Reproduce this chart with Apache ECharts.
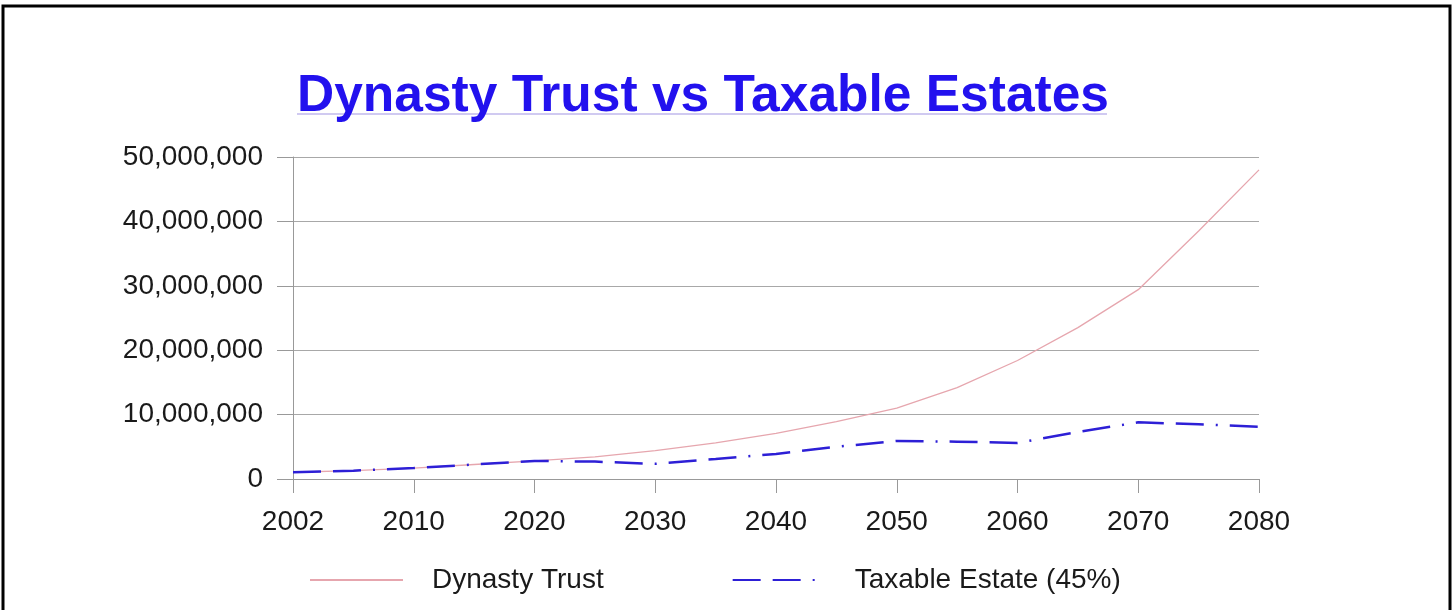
<!DOCTYPE html>
<html>
<head>
<meta charset="utf-8">
<script src="https://cdn.jsdelivr.net/npm/echarts@6/dist/echarts.min.js"></script>
<style>
html,body{margin:0;padding:0;background:#fff;}
#chart{width:1456px;height:610px;}
</style>
</head>
<body>
<div id="chart"></div>
<script>
const categories = ['2002','2005','2010','2015','2020','2025','2030','2035','2040','2045','2050','2055','2060','2065','2070','2075','2080'];
const dynastyTrust = [1050000,1300000,1700000,2250000,2800000,3450000,4400000,5600000,7100000,8900000,11000000,14200000,18400000,23500000,29400000,38500000,48000000];
const taxableEstate = [1050000,1300000,1700000,2250000,2800000,2700000,2350000,3100000,3900000,5000000,5900000,5800000,5600000,7300000,8800000,8500000,8100000];
const yTicks = {min: 0, max: 50000000, interval: 10000000};
const titleText = 'Dynasty Trust vs Taxable Estates';
const seriesNames = ['Dynasty Trust', 'Taxable Estate (45%)'];

const FONT = "'Liberation Sans', Arial, sans-serif";
const chart = echarts.init(document.getElementById('chart'), null, {renderer: 'canvas'});
chart.setOption({
  animation: false,
  backgroundColor: '#ffffff',
  title: {
    text: titleText,
    left: 297,
    top: 71,
    padding: 0,
    textStyle: {fontFamily: FONT, fontWeight: 'bold', fontSize: 51.5, color: '#2211ee'}
  },
  graphic: [
    {type: 'polyline', silent: true, shape: {points: [[3, 640], [3, 6], [1450, 6], [1450, 640]]}, style: {stroke: '#000', lineWidth: 3, fill: null}},
    {type: 'line', silent: true, shape: {x1: 297, y1: 114, x2: 1107, y2: 114}, style: {stroke: '#c0b8ec', lineWidth: 1.5}}
  ],
  grid: {left: 293, right: 197, top: 157, bottom: 131, containLabel: false},
  legend: {
    data: seriesNames,
    left: 304,
    top: 561,
    itemWidth: 93,
    itemHeight: 14,
    itemGap: 128,
    itemStyle: {opacity: 0},
    textStyle: {fontFamily: FONT, fontSize: 28, color: '#1a1a1a', padding: [0, 0, 0, 24]}
  },
  xAxis: {
    type: 'category',
    data: categories,
    boundaryGap: false,
    axisLine: {lineStyle: {color: '#999', width: 1}},
    axisTick: {show: true, interval: 1, length: 14, lineStyle: {color: '#999'}},
    axisLabel: {interval: 1, margin: 29, fontFamily: FONT, fontSize: 28, color: '#1a1a1a'},
    splitLine: {show: false}
  },
  yAxis: {
    type: 'value',
    min: yTicks.min,
    max: yTicks.max,
    interval: yTicks.interval,
    axisLine: {show: true, lineStyle: {color: '#999', width: 1}},
    axisTick: {show: true, length: 16, lineStyle: {color: '#999'}},
    axisLabel: {margin: 30, fontFamily: FONT, fontSize: 28, color: '#1a1a1a',
      formatter: v => v.toLocaleString('en-US')},
    splitLine: {show: true, lineStyle: {color: '#a8a8a8', width: 1}}
  },
  series: [
    {
      name: seriesNames[0], type: 'line', data: dynastyTrust,
      symbol: 'none', showSymbol: false, smooth: false,
      lineStyle: {color: '#e6a6ae', width: 1.3},
      itemStyle: {color: '#e6a6ae'},
      z: 2
    },
    {
      name: seriesNames[1], type: 'line', data: taxableEstate,
      symbol: 'none', showSymbol: false, smooth: false,
      lineStyle: {color: '#2d1fd6', width: 2.5, type: [28, 12, 28, 12, 2, 12]},
      itemStyle: {color: '#2d1fd6'},
      z: 3
    }
  ]
});
</script>
</body>
</html>
